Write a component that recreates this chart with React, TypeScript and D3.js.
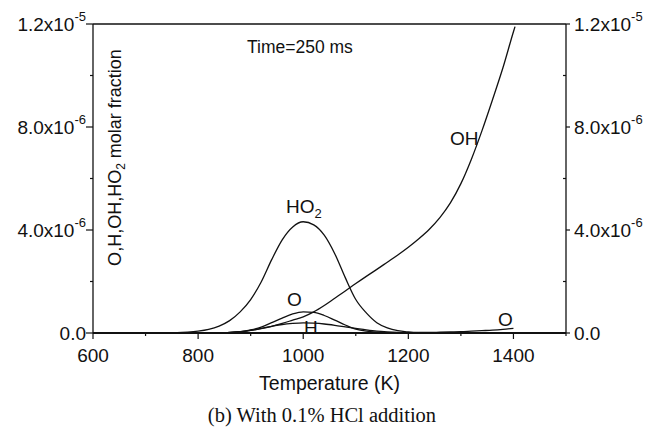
import * as d3 from 'd3'

// temperature grid (K) and molar fractions (x1e-6)
const T = [600, 700, 760, 780, 800, 820, 840, 860, 880, 900, 920, 940, 960, 980, 1000, 1020, 1040, 1060, 1080, 1100, 1120, 1140, 1160, 1180, 1200, 1220, 1240, 1260, 1280, 1300, 1320, 1340, 1360, 1380, 1400]
const HO2 = [0, 0, 0.01, 0.03, 0.07, 0.14, 0.27, 0.48, 0.82, 1.3, 1.98, 2.85, 3.62, 4.12, 4.32, 4.2, 3.8, 3.08, 2.15, 1.3, 0.78, 0.4, 0.2, 0.09, 0.04, 0.01, 0, 0, 0, 0, 0, 0, 0, 0, 0]
const O = [0, 0, 0, 0, 0, 0, 0, 0.01, 0.04, 0.12, 0.23, 0.4, 0.58, 0.74, 0.82, 0.8, 0.68, 0.5, 0.31, 0.15, 0.07, 0.03, 0.01, 0.01, 0.01, 0.02, 0.02, 0.03, 0.04, 0.05, 0.07, 0.09, 0.11, 0.14, 0.18]
const H = [0, 0, 0, 0, 0, 0, 0, 0.02, 0.05, 0.1, 0.18, 0.26, 0.33, 0.37, 0.39, 0.38, 0.35, 0.3, 0.24, 0.18, 0.12, 0.07, 0.04, 0.02, 0.01, 0, 0, 0, 0, 0, 0, 0, 0, 0, 0]
const OH_T = [600, 840, 860, 880, 900, 920, 940, 960, 980, 1000, 1020, 1040, 1060, 1080, 1100, 1120, 1140, 1160, 1180, 1200, 1220, 1240, 1260, 1280, 1300, 1320, 1340, 1360, 1380, 1400, 1403]
const OH = [0, 0, 0.02, 0.05, 0.1, 0.17, 0.26, 0.37, 0.5, 0.63, 0.82, 1.07, 1.35, 1.63, 1.92, 2.2, 2.47, 2.75, 3.03, 3.33, 3.66, 4.03, 4.48, 5.05, 5.8, 6.75, 7.85, 9.05, 10.3, 11.7, 11.9]

const xTicks = [600, 800, 1000, 1200, 1400]
const xMinor = [700, 900, 1100, 1300, 1500]
const yTicks = [0, 4, 8, 12]
const yMinor = [2, 6, 10]
const yTickMant = ['0.0', '4.0', '8.0', '1.2']
const yTickExp = ['', '-6', '-6', '-5']

const W = 648, Hh = 429
const m = { l: 93, r: 566, t: 24, b: 333 }
const FONT = 'Arial, "Liberation Sans", Helvetica, sans-serif'

export default function App() {
  const x = d3.scaleLinear([600, 1500], [m.l, m.r])
  const y = d3.scaleLinear([0, 12], [m.b, m.t])
  const line = d3.line<[number, number]>().x(d => x(d[0])).y(d => y(d[1])).curve(d3.curveMonotoneX)
  const series = [
    T.map((t, i) => [t, HO2[i]] as [number, number]),
    T.map((t, i) => [t, O[i]] as [number, number]),
    T.map((t, i) => [t, H[i]] as [number, number]),
    OH_T.map((t, i) => [t, OH[i]] as [number, number]),
  ]

  const yLabel = (i: number, xPos: number, anchor: 'start' | 'end') => (
    <text key={`${anchor}${i}`} x={xPos} y={y(yTicks[i]) + 7} fontSize={19} textAnchor={anchor} fill="#111">
      {yTickMant[i]}
      {yTickExp[i] && <tspan>x10</tspan>}
      {yTickExp[i] && <tspan fontSize={13} dy={-10}>{yTickExp[i]}</tspan>}
    </text>
  )

  return (
    <svg width={W} height={Hh} style={{ position: 'absolute', left: 0, top: 0, background: '#fff' }} fontFamily={FONT}>
      <clipPath id="plot"><rect x={m.l} y={m.t} width={m.r - m.l} height={m.b - m.t} /></clipPath>
      <g clipPath="url(#plot)" fill="none" stroke="#111" strokeWidth={1.3}>
        {series.map((s, i) => <path key={i} d={line(s) ?? ''} />)}
      </g>
      {/* frame */}
      <line x1={m.l} x2={m.r} y1={m.t} y2={m.t} stroke="#111" strokeWidth={1.5} />
      <line x1={m.l} x2={m.r} y1={m.b} y2={m.b} stroke="#111" strokeWidth={2.2} />
      <line x1={m.l} x2={m.l} y1={m.t} y2={m.b} stroke="#111" strokeWidth={1.3} />
      <line x1={m.r} x2={m.r} y1={m.t} y2={m.b} stroke="#111" strokeWidth={1.3} />
      {/* x ticks */}
      {xTicks.map(t => <line key={`xt${t}`} x1={x(t)} x2={x(t)} y1={m.b} y2={m.b + 6} stroke="#111" strokeWidth={1.2} />)}
      {xMinor.map(t => <line key={`xm${t}`} x1={x(t)} x2={x(t)} y1={m.b} y2={m.b + 3} stroke="#111" strokeWidth={1.2} />)}
      {xTicks.map(t => <text key={`xl${t}`} x={x(t)} y={362} fontSize={19} textAnchor="middle" fill="#111">{t}</text>)}
      {/* y ticks */}
      {yTicks.map(v => <line key={`yl${v}`} x1={m.l - 7} x2={m.l} y1={y(v)} y2={y(v)} stroke="#111" strokeWidth={1.2} />)}
      {yMinor.map(v => <line key={`ylm${v}`} x1={m.l - 3} x2={m.l} y1={y(v)} y2={y(v)} stroke="#111" strokeWidth={1.2} />)}
      {yTicks.map(v => <line key={`yr${v}`} x1={m.r} x2={m.r + 4} y1={y(v)} y2={y(v)} stroke="#111" strokeWidth={1.2} />)}
      {yMinor.map(v => <line key={`yrm${v}`} x1={m.r - 3} x2={m.r} y1={y(v)} y2={y(v)} stroke="#111" strokeWidth={1.2} />)}
      {yTicks.map((_, i) => yLabel(i, 86, 'end'))}
      {yTicks.map((_, i) => yLabel(i, 574, 'start'))}
      {/* axis titles */}
      <text x={(m.l + m.r) / 2} y={390} fontSize={19.5} textAnchor="middle" fill="#111">Temperature (K)</text>
      <text transform={`translate(121,${(50 + 265) / 2}) rotate(-90)`} fontSize={18} textAnchor="middle" fill="#111">
        O,H,OH,HO<tspan fontSize={12} dy={4}>2</tspan><tspan dy={-4}> molar fraction</tspan>
      </text>
      <text x={247} y={53} fontSize={17.5} fill="#111">Time=250 ms</text>
      {/* curve labels */}
      <text x={450} y={145} fontSize={19} fill="#111">OH</text>
      <text x={286} y={213} fontSize={19} fill="#111">HO<tspan fontSize={13} dy={5}>2</tspan></text>
      <text x={287} y={306} fontSize={19} fill="#111">O</text>
      <text x={304} y={334} fontSize={19} fill="#111">H</text>
      <text x={498} y={326} fontSize={19} fill="#111">O</text>
      {/* caption */}
      <text x={322} y={422} fontSize={20.5} textAnchor="middle" fill="#111" fontFamily='"Liberation Serif", "DejaVu Serif", serif'>(b) With 0.1% HCl addition</text>
    </svg>
  )
}
